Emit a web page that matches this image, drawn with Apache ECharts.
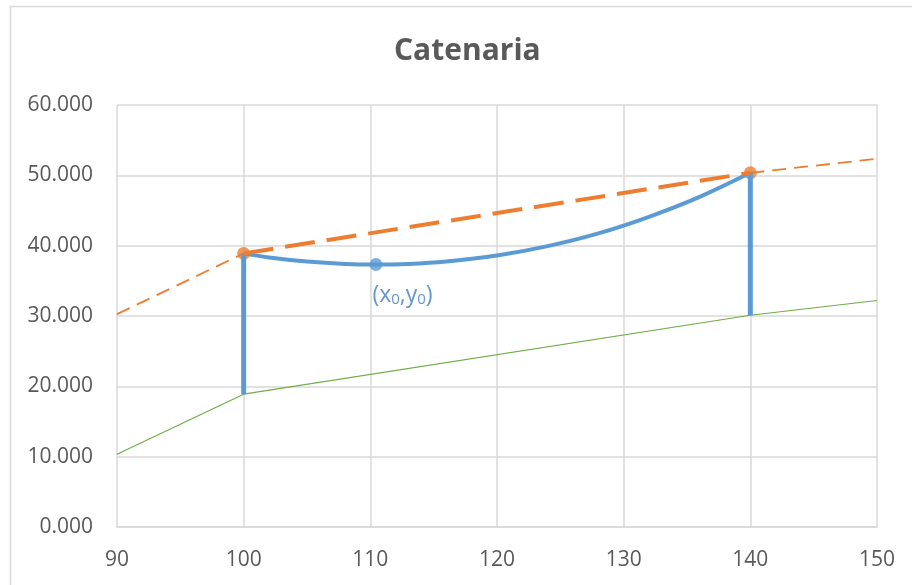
<!DOCTYPE html>
<html>
<head>
<meta charset="utf-8">
<title>Catenaria</title>
<script src="https://cdn.jsdelivr.net/npm/echarts@6/dist/echarts.min.js"></script>
<style>
  html, body { margin: 0; padding: 0; background: #fff; }
  #chart { width: 912px; height: 585px; }
</style>
</head>
<body>
<div id="chart"></div>
<script>
// valori
const terreno = [[90, 10.34], [100, 18.88], [140, 30.11], [150, 32.2]];
const cordaSx = [[90, 30.26], [100, 38.9]];
const cordaDx = [[140, 50.36], [150, 52.35]];
const corda = [[100, 38.9], [140, 50.36]];
const catenaria = [
  [100, 38.9], [102, 38.33], [105, 37.74], [108, 37.4], [110.44, 37.32],
  [113, 37.41], [116, 37.76], [120, 38.61], [124, 39.94], [128, 41.75],
  [132, 44.11], [136, 46.94], [140, 50.36]
];
const sostegno1 = [[100, 18.88], [100, 38.9]];
const sostegno2 = [[140, 30.11], [140, 50.36]];
const vertice = [[110.44, 37.32]];
const attacchi = [[100, 38.9], [140, 50.36]];

const blu = '#5B9BD5';
const arancio = '#ED7D31';
const verde = '#70AD47';
const font = '"Open Sans", "Noto Sans", sans-serif';

const chart = echarts.init(document.getElementById('chart'));

const option = {
  animation: false,
  backgroundColor: '#fff',
  title: {
    text: 'Catenaria',
    left: 389,
    top: 31,
    textStyle: { fontFamily: font, fontSize: 30, fontWeight: 'bold', color: '#595959' }
  },
  graphic: [{
    type: 'rect',
    shape: { x: 10.5, y: 6.5, width: 1000, height: 1000 },
    style: { fill: 'none', stroke: '#d9d9d9', lineWidth: 1.5 },
    silent: true
  }],
  grid: { left: 117, right: 35, top: 105, bottom: 58 },
  xAxis: {
    type: 'value',
    min: 90, max: 150, interval: 10,
    axisLine: { show: true, onZero: false, lineStyle: { color: '#d9d9d9', width: 1.5 } },
    axisTick: { show: false },
    axisLabel: { fontFamily: font, fontSize: 21, color: '#595959', margin: 23 },
    splitLine: { show: true, lineStyle: { color: '#d9d9d9', width: 1.5 } }
  },
  yAxis: {
    type: 'value',
    min: 0, max: 60, interval: 10,
    axisLine: { show: false },
    axisTick: { show: false },
    axisLabel: {
      fontFamily: font, fontSize: 21, color: '#595959', margin: 24,
      formatter: v => v.toFixed(3)
    },
    splitLine: { show: true, lineStyle: { color: '#d9d9d9', width: 1.5 } }
  },
  series: [
    {
      type: 'line', data: terreno, symbol: 'none',
      lineStyle: { color: verde, width: 1.2 }
    },
    {
      type: 'line', data: cordaSx, symbol: 'none',
      lineStyle: { color: arancio, width: 1.8, type: [14, 8] }
    },
    {
      type: 'line', data: cordaDx, symbol: 'none',
      lineStyle: { color: arancio, width: 1.8, type: [14, 8] }
    },
    {
      type: 'line', data: sostegno1, symbol: 'none',
      lineStyle: { color: blu, width: 5 }
    },
    {
      type: 'line', data: sostegno2, symbol: 'none',
      lineStyle: { color: blu, width: 5 }
    },
    {
      type: 'line', data: catenaria, symbol: 'none', smooth: 0.3,
      lineStyle: { color: blu, width: 4 }
    },
    {
      type: 'line', data: corda, symbol: 'none',
      lineStyle: { color: arancio, width: 4, type: [30, 12] }
    },
    {
      type: 'scatter', data: attacchi, symbolSize: 13,
      itemStyle: { color: arancio }
    },
    {
      type: 'scatter', data: vertice, symbolSize: 13,
      itemStyle: { color: blu },
      label: {
        show: true,
        position: [3, 25],
        formatter: '(x{s|0},y{s|0})',
        fontFamily: font, fontSize: 23, color: '#3E7CC0',
        rich: {
          s: { fontFamily: font, fontSize: 15, color: '#3E7CC0', verticalAlign: 'bottom', padding: [9, 0, 0, 0] }
        }
      }
    }
  ]
};

chart.setOption(option);
</script>
</body>
</html>
